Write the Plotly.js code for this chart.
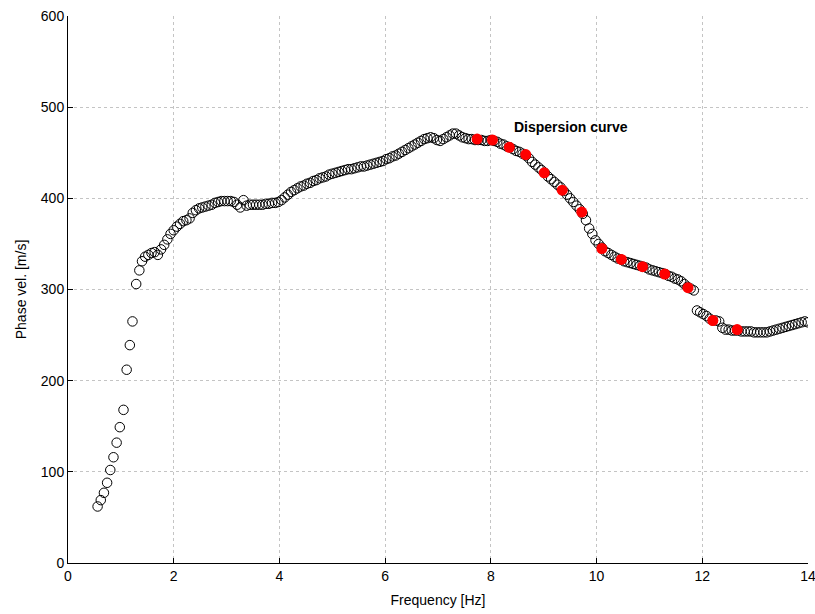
<!DOCTYPE html>
<html>
<head>
<meta charset="utf-8">
<script src="https://cdn.plot.ly/plotly-3.0.1.min.js"></script>
<style>html,body{margin:0;padding:0;background:#fff;}#chart{width:815px;height:614px;}</style>
</head>
<body>
<div id="chart"></div>
<script>
// Picked dispersion points (frequency in Hz)
const freqHz = [
 0.56,0.62,0.68,0.74,0.80,0.86,0.92,0.98,1.05,1.11,1.17,1.22,1.29,1.35,1.40,
 1.46,1.52,1.58,1.64,1.70,1.76,1.82,1.88,1.94,2.00,2.06,2.12,2.18,2.24,2.30,
 2.36,2.42,2.48,2.54,2.60,2.66,2.72,2.78,2.84,2.90,2.96,3.02,3.08,3.14,3.20,
 3.26,3.32,3.38,3.44,3.50,3.56,3.62,3.68,3.74,3.80,3.86,3.92,3.98,4.04,4.10,
 4.16,4.22,4.28,4.34,4.40,4.46,4.52,4.58,4.64,4.70,4.76,4.82,4.88,4.94,5.00,
 5.06,5.12,5.18,5.24,5.30,5.36,5.42,5.48,5.54,5.60,5.66,5.72,5.78,5.84,5.90,
 5.96,6.02,6.08,6.14,6.20,6.26,6.32,6.38,6.44,6.50,6.56,6.62,6.68,6.74,6.80,
 6.86,6.92,6.98,7.04,7.10,7.16,7.22,7.28,7.34,7.40,7.46,7.52,7.58,7.64,7.70,
 7.76,7.82,7.88,7.94,8.00,8.06,8.12,8.18,8.24,8.30,8.36,8.42,8.48,8.54,8.60,
 8.66,8.72,8.78,8.84,8.90,8.96,9.02,9.08,9.14,9.20,9.26,9.32,9.38,9.44,9.50,
 9.56,9.62,9.68,9.74,9.80,9.86,9.92,9.98,10.04,10.10,10.16,10.22,10.28,10.34,10.40,
 10.46,10.52,10.58,10.64,10.70,10.76,10.82,10.88,10.94,11.00,11.06,11.12,11.18,11.24,11.30,
 11.36,11.42,11.48,11.54,11.60,11.66,11.72,11.78,11.84,11.90,11.96,12.02,12.08,12.14,12.20,
 12.26,12.32,12.38,12.44,12.50,12.56,12.62,12.68,12.74,12.80,12.86,12.92,12.98,13.04,13.10,
 13.16,13.22,13.28,13.34,13.40,13.46,13.52,13.58,13.64,13.70,13.76,13.82,13.88,13.94,14.00
];
// Phase velocity in m/s
const phaseVel = [
 62,69,77,88,102,116,132,149,168,212,239,265,306,321,331,
 336,338,340,341,338,344,349,355,361,365,369,372,375,376,378,
 384,387,389,390,391,392,393,395,396,397,397,397,397,396,393,
 390,398,392,393,393,393,393,393,394,394,395,395,396,398,401,
 404,407,409,411,413,414,416,417,419,420,422,423,424,426,427,
 428,429,430,431,432,432,433,434,435,435,436,437,438,439,440,
 441,443,444,446,447,449,451,453,455,457,459,461,463,465,466,
 467,466,464,463,465,467,469,471,471,469,467,466,465,465,464,
 464,464,463,463,464,463,462,460,459,457,456,454,452,451,449,
 447,444,440,437,434,431,428,424,421,418,415,412,408,404,400,
 396,392,388,383,376,367,361,354,350,346,342,340,338,336,334,
 333,331,330,329,328,327,326,325,324,322,321,320,319,318,317,
 315,314,312,311,309,306,303,301,299,277,275,273,271,268,266,
 266,265,258,256,256,255,255,255,254,254,254,254,253,253,253,
 253,253,254,255,256,257,258,259,260,261,262,263,264,265,264
];
// Selected (highlighted) points
const selFreq = [7.74,8.03,8.35,8.66,9.01,9.35,9.72,10.10,10.47,10.87,11.29,11.73,12.20,12.66];
const selVel  = [465,464,456,448,428,409,385,345,333,325,317,302,266,256];

const xTicks = [0,2,4,6,8,10,12,14];
const yTicks = [0,100,200,300,400,500,600];

const font = 'Liberation Sans, Arial, Helvetica, sans-serif';

const traces = [
  {x: freqHz, y: phaseVel, type: 'scatter', mode: 'markers',
   marker: {symbol: 'circle-open', size: 9.5, color: '#000', line: {width: 1, color: '#000'}},
   hoverinfo: 'x+y'},
  {x: selFreq, y: selVel, type: 'scatter', mode: 'markers',
   marker: {symbol: 'circle', size: 11, color: '#ff0000', line: {width: 0}},
   hoverinfo: 'x+y'}
];

const axisCommon = {
  showline: true, linecolor: '#000', linewidth: 1, mirror: false,
  ticks: 'inside', ticklen: 5, tickcolor: '#000', tickwidth: 1,
  showgrid: true, gridcolor: '#c4c4c4', griddash: 'dot', gridwidth: 1,
  zeroline: false, ticklabeloverflow: 'allow',
  tickfont: {family: font, size: 14, color: '#000'}
};

const layout = {
  width: 815, height: 614,
  margin: {l: 68, r: 7, t: 16, b: 51},
  paper_bgcolor: '#fff', plot_bgcolor: '#fff',
  showlegend: false,
  font: {family: font, size: 14, color: '#000'},
  xaxis: Object.assign({}, axisCommon, {
    range: [0, 14.0005], tickmode: 'array', tickvals: xTicks,
    title: {text: 'Frequency [Hz]', font: {family: font, size: 14, color: '#000'}, standoff: 12}
  }),
  yaxis: Object.assign({}, axisCommon, {
    range: [0, 600.02], tickmode: 'array', tickvals: yTicks,
    title: {text: 'Phase vel. [m/s]', font: {family: font, size: 14, color: '#000'}, standoff: 10}
  }),
  annotations: [{
    x: 8.4, y: 478, xref: 'x', yref: 'y', xanchor: 'left', yanchor: 'middle',
    text: '<b>Dispersion curve</b>', showarrow: false,
    font: {family: font, size: 14, color: '#000'}
  }]
};

Plotly.newPlot('chart', traces, layout, {displayModeBar: false, staticPlot: true});
</script>
</body>
</html>
